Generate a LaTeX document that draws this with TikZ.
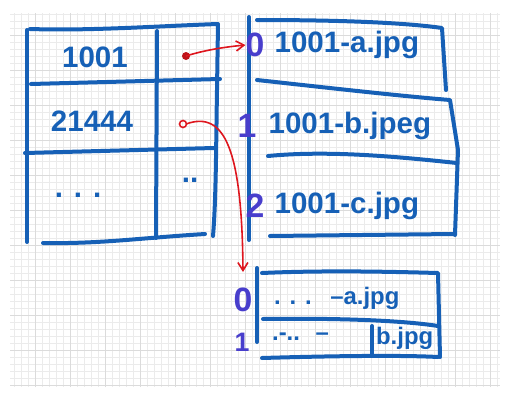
\documentclass[tikz,border=0pt]{standalone}
\usepackage{fontspec}
\setmainfont{Liberation Sans}
\usepackage{tikz}
\usetikzlibrary{arrows.meta, positioning, calc}
\definecolor{InkBlue}{RGB}{22,96,182}
\definecolor{IdxBlue}{RGB}{72,62,204}
\definecolor{InkRed}{RGB}{222,22,30}
\tikzset{
	ink/.style={draw=InkBlue, line width=2mm, line cap=round, line join=round},
	inkText/.style={text=InkBlue, font=\bfseries\fontsize{42}{44}\selectfont, inner sep=0pt},
	smallText/.style={text=InkBlue, font=\bfseries\fontsize{34}{36}\selectfont, inner sep=0pt},
	idx/.style={text=IdxBlue, font=\bfseries\fontsize{48}{50}\selectfont, inner sep=0pt},
	redLink/.style={draw=InkRed, line width=0.8mm, -{Straight Barb[length=4mm, width=5mm, line width=0.8mm]}}
}

\begin{document}
\begin{tikzpicture}[x=0.5mm, y=-0.5mm]

	\useasboundingbox (0,0) rectangle (514,402);

	% paper
	\draw[black!8, line width=0.2mm, step=3.5mm] (10,13) grid (500,387);
	\draw[black!14, line width=0.3mm, step=17.5mm] (10,13) grid (500,387);

	% left table
	\draw[ink] (27,30) -- (27,242);
	\draw[ink] (30,29) .. controls (90,31) and (160,26) .. (218,24) -- (217,90) .. controls (216,150) and (216,200) .. (213,236);
	\draw[ink] (157,31) -- (156,238);
	\draw[ink] (31,84) -- (220,79);
	\draw[ink] (25,153) -- (214,148);
	\draw[ink] (43,243) .. controls (100,244) and (140,238) .. (205,234);

	\node[inkText] (k1) at (95,57) {1001};
	\node[inkText] (k2) at (92,121) {21444};
	\node[inkText] (d1) at (78,195) {. . .};
	\node[inkText] (d2) at (190,180) {..};

	% files of key 1001
	\draw[ink] (249,17) -- (249,240);
	\draw[ink] (257,20) .. controls (330,20) and (400,22) .. (442,28) -- (446,90);
	\draw[ink] (257,80) .. controls (330,88) and (400,96) .. (450,100) -- (458,150) -- (455,235);
	\draw[ink] (268,156) .. controls (330,150) and (400,157) .. (457,163);
	\draw[ink] (270,236) -- (454,234);

	\node[idx] (i0) at (255,45) {0};
	\node[idx] (i1) at (247,126) {1};
	\node[idx] (i2) at (255,206) {2};
	\node[inkText, right=10 of i0] (f0) {1001-a.jpg};
	\node[inkText, right=12 of i1] (f1) {1001-b.jpeg};
	\node[inkText, right=10 of i2] (f2) {1001-c.jpg};

	% files of key 21444
	\draw[ink] (257,268) -- (257,342);
	\draw[ink] (262,273) .. controls (330,270) and (400,272) .. (438,273) -- (440,357);
	\draw[ink] (263,319) .. controls (330,318) and (400,320) .. (438,326);
	\draw[ink] (262,358) .. controls (330,356) and (400,355) .. (438,357);
	\draw[ink] (372,326) -- (372,356);

	\node[idx] (j0) at (243,300) {0};
	\node[idx, font=\bfseries\fontsize{38}{40}\selectfont] (j1) at (242,342) {1};
	\node[smallText, anchor=west] (g0) at (274,298) {. . .\enspace\ --a.jpg};
	\node[smallText, anchor=west] (g1) at (272,337) {.-.. \ --};
	\node[smallText, anchor=west] (h1) at (376,338) {b.jpg};

	% links
	\fill[InkRed!85!black] (186,56) circle (4);
	\coordinate (p1) at (186,56);
	\draw[InkRed, line width=0.8mm] (183,124) circle (3.5);
	\coordinate (p2) at (186,124);
	\coordinate (q2) at (243,272);

	\draw[redLink] (p1) .. controls (205,50) and (225,47) .. (i0.west);
	\draw[redLink] (p2) .. controls (225,110) and (242,150) .. (q2);

\end{tikzpicture}
\end{document}
